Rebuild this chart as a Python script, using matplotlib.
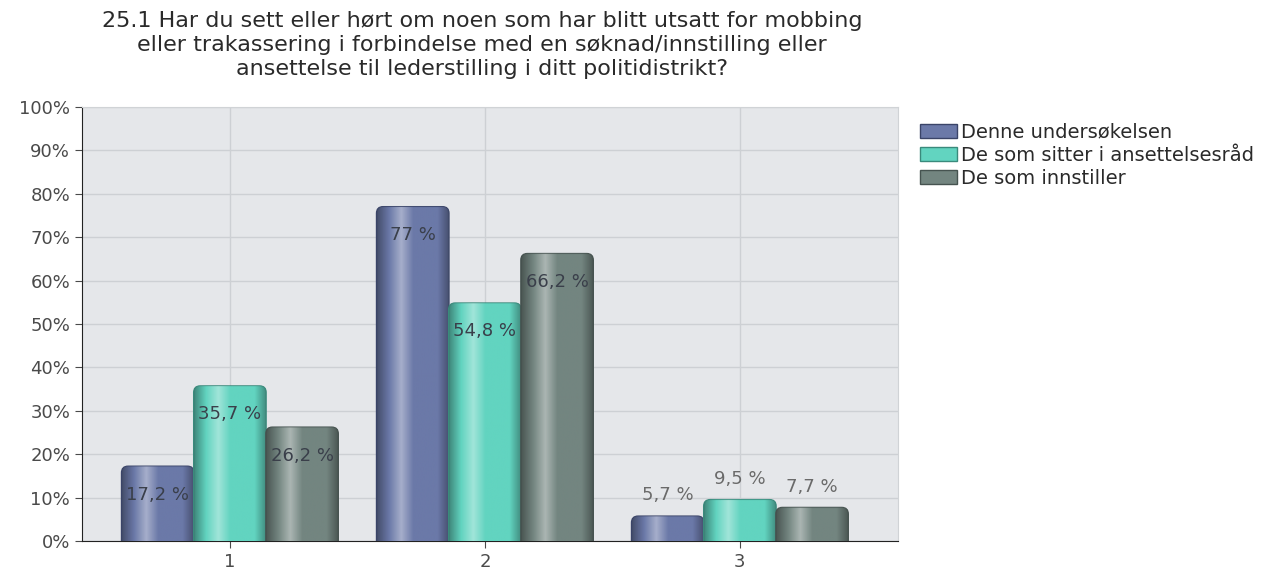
import numpy as np
import matplotlib
matplotlib.use('Agg')
import matplotlib.pyplot as plt
from matplotlib.patches import FancyBboxPatch
from matplotlib.colors import LinearSegmentedColormap, to_rgb

# data
categories = ['1', '2', '3']
series_names = ['Denne undersøkelsen', 'De som sitter i ansettelsesråd', 'De som innstiller']
denne = [17.2, 77.0, 5.7]
ansettelsesrad = [35.7, 54.8, 9.5]
innstiller = [26.2, 66.2, 7.7]
value_labels = [['17,2 %', '77 %', '5,7 %'],
                ['35,7 %', '54,8 %', '9,5 %'],
                ['26,2 %', '66,2 %', '7,7 %']]
yticks = list(range(0, 101, 10))
title = ('25.1 Har du sett eller hørt om noen som har blitt utsatt for mobbing\n'
         'eller trakassering i forbindelse med en søknad/innstilling eller\n'
         'ansettelse til lederstilling i ditt politidistrikt?')

colors = ['#6b79a8', '#62d4c0', '#738580']
edges = ['#3a4468', '#3a8a7c', '#465350']

plt.rcParams['font.family'] = ['DejaVu Sans']

fig = plt.figure(figsize=(12.7, 5.76), dpi=100)
ax = fig.add_axes([82 / 1270, 35 / 576, 816 / 1270, 434 / 576])
ax.set_facecolor('#e5e7ea')

x = np.arange(len(categories))
width = 0.283
all_series = [denne, ansettelsesrad, innstiller]


def shade(c):
    r, g, b = to_rgb(c)
    dark = (r * 0.6, g * 0.6, b * 0.6)
    light = tuple(min(1, v * 0.55 + 0.45) for v in (r, g, b))
    return LinearSegmentedColormap.from_list('s', [dark, c, light, c, c, c, dark])


for i, vals in enumerate(all_series):
    pos = x + (i - 1) * width
    cmap = shade(colors[i])
    for j, (p, v) in enumerate(zip(pos, vals)):
        left = p - width / 2
        patch = FancyBboxPatch((left, -3), width, v + 3,
                               boxstyle='round,pad=0,rounding_size=0.025',
                               mutation_aspect=60,
                               facecolor=colors[i], edgecolor=edges[i],
                               linewidth=1.2, zorder=3)
        ax.add_patch(patch)
        grad = np.linspace(0, 1, 256).reshape(1, -1)
        im = ax.imshow(grad, extent=[left, left + width, 0, v], aspect='auto',
                       cmap=cmap, zorder=3, alpha=0.9)
        im.set_clip_path(patch)
        if v > 12:
            ax.text(p, v - 6.5, value_labels[i][j], ha='center', va='center',
                    fontsize=13, color='#3a3f4a', zorder=5)
        else:
            ax.text(p, v + 4.8, value_labels[i][j], ha='center', va='center',
                    fontsize=13, color='#6a6a6a', zorder=5)

ax.set_xlim(-0.58, 2.62)
ax.set_ylim(0, 100)
ax.set_xticks(x)
ax.set_xticklabels(categories)
ax.set_yticks(yticks)
ax.set_yticklabels([f'{t}%' for t in yticks])
ax.tick_params(axis='both', labelsize=13, colors='#4a4a4a', length=5)
ax.grid(True, color='#cdd0d4', linewidth=1, zorder=0)
ax.set_axisbelow(True)
for s in ['top', 'right']:
    ax.spines[s].set_color('#d0d3d6')
ax.spines['left'].set_color('#222222')
ax.spines['bottom'].set_color('#222222')

fig.text(482 / 1270, 1 - 11 / 576, title, ha='center', va='top',
         fontsize=16, color='#2a2a2a', linespacing=1.24)

handles = [FancyBboxPatch((0, 0), 1, 1, boxstyle='round,pad=0.1',
                          facecolor=colors[i], edgecolor=edges[i])
           for i in range(3)]
fig.legend(handles, series_names, loc='upper left',
           bbox_to_anchor=(912 / 1270, 1 - 115 / 576), frameon=False,
           fontsize=14, handlelength=1.9, handleheight=0.75,
           labelspacing=0.2, handletextpad=0.2, borderaxespad=0,
           labelcolor='#2a2a2a')

fig.savefig('out.png', dpi=100)
